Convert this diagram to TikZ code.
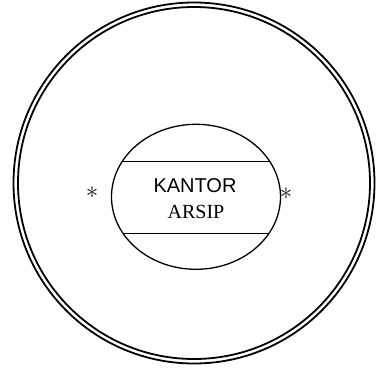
\documentclass[tikz,border=0pt]{standalone}
\usepackage{fontspec}
\setmainfont{Liberation Serif}
\newfontfamily\arialfont{Liberation Sans}
\usetikzlibrary{shapes.geometric}
\tikzset{
  ring/.style={circle, draw, line width=1.8pt, inner sep=0pt},
  oval/.style={ellipse, draw, line width=1.3pt, inner sep=0pt, minimum width=169pt, minimum height=145pt},
  band/.style={line width=1.3pt},
  label20/.style={anchor=base, inner sep=0pt, font=\fontsize{20}{24}\selectfont},
  star/.style={anchor=base, inner sep=0pt, text=black!90, font=\fontsize{30}{34}\selectfont}
}
\begin{document}
\begin{tikzpicture}[x=1pt,y=-1pt]
\useasboundingbox[fill=white] (0,0) rectangle (378,378);
\node[ring, minimum size=361pt] (outer) at (194,183) {};
\node[ring, minimum size=352pt] (inner) at (194,183) {};
\node[oval] (ell) at (196,196.8) {};
\begin{scope}
  \clip (196,196.8) ellipse [x radius=84.5pt, y radius=72.5pt];
  \coordinate (u1) at (100,161.7);
  \coordinate (u2) at (300,161.7);
  \coordinate (l1) at (100,233.5);
  \coordinate (l2) at (300,233.5);
  \draw[band] (u1) -- (u2);
  \draw[band] (l1) -- (l2);
\end{scope}
\node[label20, font=\arialfont\fontsize{20}{24}\selectfont] (kantor) at (195,192.3) {KANTOR};
\node[label20] (arsip) at (196,218.3) {ARSIP};
\node[star] (s1) at (92,198.5) {$\ast$};
\node[star] (s2) at (286,199.5) {$\ast$};
\end{tikzpicture}
\end{document}
